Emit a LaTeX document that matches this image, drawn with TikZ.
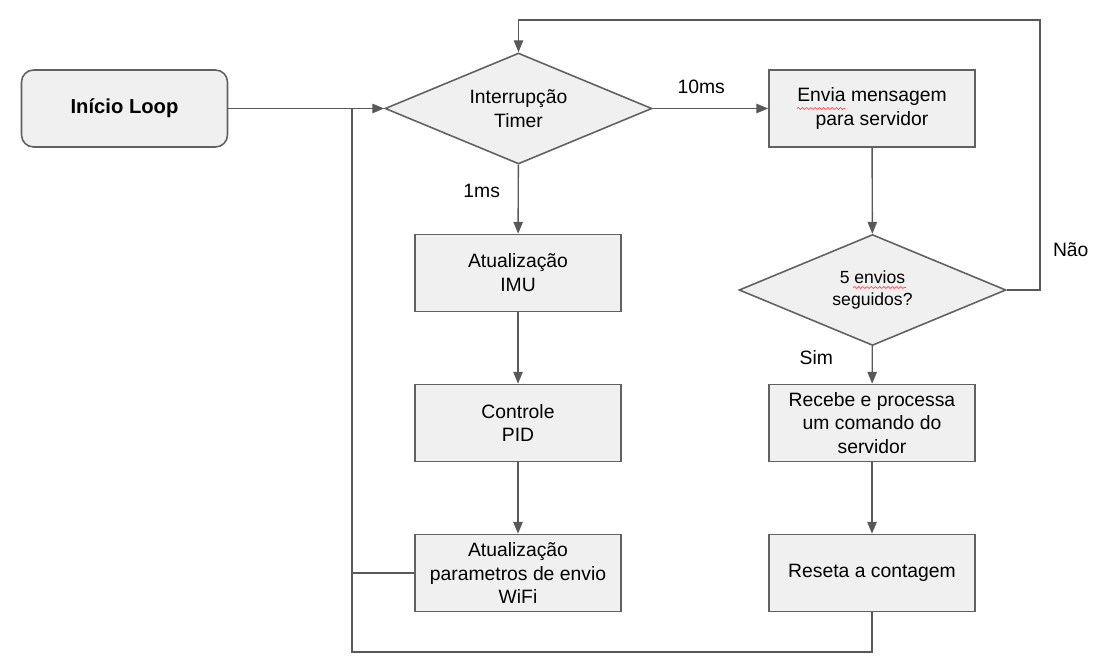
\documentclass[tikz,border=0pt]{standalone}
\usepackage{fontspec}
\setmainfont{Liberation Sans}
\usetikzlibrary{%
   arrows.meta,%
   shapes.geometric,%
   positioning,%
   decorations.pathmorphing%
}

\begin{document}
\begin{tikzpicture}[x=0.02cm,y=-0.02cm,
	every node/.style={font=\fontsize{11}{13.6}\selectfont},
	processo/.style={
	rectangle,
	minimum width=4.12cm,minimum height=1.54cm,
	inner sep=2pt,
	line width=0.9pt,
	draw=black!62,
	fill=black!6,
	align=center
	},inicio/.style={
	processo,rounded corners=0.24cm,
	font=\fontsize{11.5}{13.6}\selectfont\bfseries
	},decisao/.style={
	diamond,aspect=2.4,inner sep=0pt,
	minimum width=5.34cm,minimum height=2.22cm,
	line width=0.9pt,
	draw=black!62,
	fill=black!6,
	align=center
	},seta/.style={
	-{Triangle[length=6.8pt,width=5.4pt]},
	line width=0.8pt,draw=black!65
	},linha/.style={
	line width=0.8pt,draw=black!65
	},rotulo/.style={
	inner sep=0pt
	},erro/.style={
	draw=red!70,line width=0.4pt,
	decorate,decoration={snake,amplitude=0.55pt,segment length=2.4pt}
	}
]
\useasboundingbox (0,0) rectangle (1102,662);

% left column
\node (inicio) [inicio] at (124.5,108.5) {Início Loop};
\node (timer) [decisao] at (518.5,108.5) {Interrupção\\Timer};
\node (imu) [processo] at (518,273) {Atualização\\IMU};
\node (pid) [processo] at (518,423) {Controle\\PID};
\node (wifi) [processo] at (518,573) {Atualização\\parametros de envio\\WiFi};

% right column
\node (envia) [processo] at (872,108.5) {Envia mensagem\\para servidor};
\node (envios) [decisao,font=\fontsize{10}{12.5}\selectfont] at (872.5,290) {5 envios\\seguidos?};
\node (recebe) [processo] at (872,423) {Recebe e processa\\um comando do\\servidor};
\node (reseta) [processo] at (872,573) {Reseta a contagem};

\coordinate (juncao) at (352,108.5);
\coordinate (cantoB) at (352,652);
\coordinate (cantoN) at (1040,20);

\path	(inicio) edge[seta] (timer)
	(timer) edge[seta] node[rotulo,pos=0.42,above=7.8pt] {10ms} (envia)
	(timer) edge[seta] node[rotulo,pos=0.38,left=10pt] {1ms} (imu)
	(imu) 	edge[seta] (pid)
	(pid) 	edge[seta] (wifi);
\path	(envia) edge[seta] (envios)
	(envios) edge[seta] node[rotulo,pos=0.3,left=22pt] {Sim} (recebe)
	(recebe) edge[seta] (reseta);

% loops back
\draw[seta] (envios.east) -| node[rotulo,pos=0.574,right=7pt] {Não} (cantoN) -| (timer.north);
\draw[linha] (reseta.south) |- (cantoB) -- (juncao);
\draw[linha] (wifi.west) -- (wifi.west -| juncao);

%	spell check marks
\draw[erro] (797,108.5) -- (845,108.5);
\draw[erro] (853,287.5) -- (906,287.5);

\end{tikzpicture}
\end{document}
